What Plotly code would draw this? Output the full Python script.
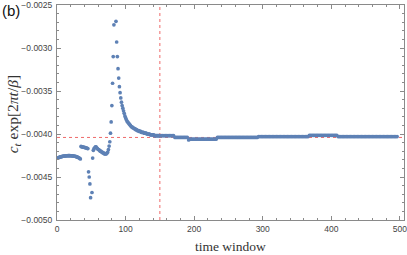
import plotly.graph_objects as go

# ---- data (time window -> c_t exp[2 pi t / beta]) ----
x_a = list(range(1, 35))
y_a = [-0.004280, -0.004276, -0.004272, -0.004269, -0.004266, -0.004264, -0.004262, -0.004260, -0.004258, -0.004257,
       -0.004256, -0.004255, -0.004254, -0.004253, -0.004253, -0.004252, -0.004252, -0.004252, -0.004252, -0.004253,
       -0.004253, -0.004254, -0.004255, -0.004256, -0.004257, -0.004259, -0.004261, -0.004263, -0.004266, -0.004269,
       -0.004273, -0.004277, -0.004282, -0.004290]

x_b = list(range(35, 46))
y_b = [-0.004145, -0.004148, -0.004150, -0.004152, -0.004154, -0.004156, -0.004158, -0.004160, -0.004163, -0.004166,
       -0.004169]

x_c = [46, 47, 48, 49, 51, 52]
y_c = [-0.00444, -0.00450, -0.00458, -0.00474, -0.00468, -0.00428]

x_d = list(range(53, 76))
y_d = [-0.00419, -0.00417, -0.00416, -0.00415, -0.00415, -0.00416, -0.00417, -0.00418, -0.00418, -0.00419,
       -0.00420, -0.00420, -0.00421, -0.00421, -0.00422, -0.00422, -0.00423, -0.00423, -0.00423, -0.00423,
       -0.00422, -0.00421, -0.00418]

x_e = [76, 77, 78, 79, 80, 81, 82, 83, 86, 87, 88, 89, 90, 91, 92, 93, 94, 95, 96]
y_e = [-0.00414, -0.00409, -0.00399, -0.00386, -0.00367, -0.00341, -0.00310, -0.00273, -0.00269, -0.00293,
       -0.00310, -0.00324, -0.00335, -0.00345, -0.00352, -0.00358, -0.00363, -0.00367, -0.00370]

x_f = list(range(97, 151))
y_f = [-0.00373, -0.00376, -0.00379, -0.00381, -0.00383, -0.00385, -0.00386, -0.00387, -0.00388, -0.00389,
       -0.00390, -0.00391, -0.00392, -0.00392, -0.00393, -0.00393, -0.00394, -0.00394, -0.00395, -0.00395,
       -0.00396, -0.00396, -0.00396, -0.00397, -0.00397, -0.00397, -0.00398, -0.00398, -0.00398, -0.00398,
       -0.00399, -0.00399, -0.00399, -0.00399, -0.00400, -0.00400, -0.00400, -0.00400, -0.00400, -0.00401,
       -0.00401, -0.00401, -0.00401, -0.00401, -0.00401, -0.00402, -0.00402, -0.00402, -0.00402, -0.00402,
       -0.00402, -0.00402, -0.00402, -0.00402]

x_g = list(range(152, 497, 2))
y_g = [-0.00402, -0.00402, -0.00402, -0.00402, -0.00402, -0.00402, -0.00402, -0.00402, -0.00402, -0.00402,
       -0.00404, -0.00404, -0.00404, -0.00404, -0.00404, -0.00404, -0.00404, -0.00404, -0.00404, -0.00404,
       -0.00407, -0.00406,
       -0.00406, -0.00406, -0.00406, -0.00406, -0.00406, -0.00406, -0.00406, -0.00406, -0.00406, -0.00406,
       -0.00406, -0.00406, -0.00406, -0.00406, -0.00406, -0.00406, -0.00406, -0.00406, -0.00406,
       -0.00404, -0.00404, -0.00404, -0.00404, -0.00404, -0.00404, -0.00404, -0.00404, -0.00404, -0.00404,
       -0.00404, -0.00404, -0.00404, -0.00404, -0.00404, -0.00404, -0.00404, -0.00404, -0.00404, -0.00404,
       -0.00404, -0.00404, -0.00404, -0.00404, -0.00404, -0.00404, -0.00404, -0.00404, -0.00404, -0.00404,
       -0.00403, -0.00403, -0.00403, -0.00403, -0.00403, -0.00403, -0.00403, -0.00403, -0.00403, -0.00403,
       -0.00403, -0.00403, -0.00403, -0.00403, -0.00403, -0.00403, -0.00403, -0.00403, -0.00403, -0.00403,
       -0.00403, -0.00403, -0.00403, -0.00403, -0.00403, -0.00403, -0.00403, -0.00403, -0.00403, -0.00403,
       -0.00403, -0.00403, -0.00403, -0.00403, -0.00403, -0.00403, -0.00403,
       -0.004015, -0.004015, -0.004015, -0.004015, -0.004015, -0.004015, -0.004015, -0.004015, -0.004015, -0.004015,
       -0.004015, -0.004015, -0.004015, -0.004015, -0.004015, -0.004015, -0.004015, -0.004015, -0.004015, -0.004015,
       -0.004015,
       -0.00403, -0.00403, -0.00403, -0.00403, -0.00403, -0.00403, -0.00403, -0.00403, -0.00403, -0.00403,
       -0.00403, -0.00403, -0.00403, -0.00403, -0.00403, -0.00403, -0.00403, -0.00403, -0.00403, -0.00403,
       -0.00403, -0.00403, -0.00403, -0.00403, -0.00403, -0.00403, -0.00403, -0.00403, -0.00403, -0.00403,
       -0.00403, -0.00403, -0.00403, -0.00403, -0.00403, -0.00403, -0.00403, -0.00403, -0.00403, -0.00403,
       -0.00403, -0.00403, -0.00403, -0.00403]

ref_level = -0.00404   # horizontal dashed line
ref_window = 150       # vertical dashed line

x_all = x_a + x_b + x_c + x_d + x_e + x_f + x_g
y_all = y_a + y_b + y_c + y_d + y_e + y_f + y_g

BLUE = "#5E81B5"
RED = "#EE6A6A"
FRAME = "#8a8a8a"
TICKFONT = dict(family="Liberation Sans, Arial, sans-serif", size=8.5, color="#444444")

fig = go.Figure()
fig.add_trace(go.Scatter(
    x=x_all, y=y_all, mode="markers",
    marker=dict(color=BLUE, size=3.7, line=dict(width=0)),
    showlegend=False, hoverinfo="skip",
))

fig.add_shape(type="line", xref="paper", yref="y", x0=0, x1=1, y0=ref_level, y1=ref_level,
              line=dict(color=RED, width=1, dash="3px,3px"), layer="below")
fig.add_shape(type="line", xref="x", yref="paper", x0=ref_window, x1=ref_window, y0=0, y1=1,
              line=dict(color=RED, width=1, dash="3px,3px"), layer="below")

axis_common = dict(
    showgrid=False, zeroline=False, showline=True, linecolor=FRAME, linewidth=1,
    mirror="ticks", ticks="inside", ticklen=4, tickcolor=FRAME, tickwidth=1,
    tickfont=TICKFONT, automargin=False, ticklabeloverflow="allow",
)

fig.update_xaxes(range=[0, 506], dtick=100, tick0=0,
                 minor=dict(ticks="inside", ticklen=2, dtick=20, tickcolor=FRAME),
                 ticklabelstandoff=1, **axis_common)
fig.update_yaxes(range=[-0.0050, -0.0025], dtick=0.0005, tick0=-0.0050, tickformat=".4f",
                 minor=dict(ticks="inside", ticklen=2, dtick=0.0001, tickcolor=FRAME),
                 ticklabelstandoff=2, **axis_common)

fig.add_annotation(text="time window", xref="paper", yref="paper", x=0.5, y=-0.08,
                   xanchor="center", yanchor="top", showarrow=False,
                   font=dict(family="Liberation Serif, DejaVu Serif, serif", size=13.5, color="#333333"))
fig.add_annotation(text="<i>c</i><sub><i>t</i></sub> exp[2<i>πt</i>/<i>β</i>]",
                   xref="paper", yref="paper", x=-0.125, y=0.49, textangle=-90,
                   xanchor="center", yanchor="middle", showarrow=False,
                   font=dict(family="Liberation Serif, DejaVu Serif, serif", size=15.5, color="#333333"))
fig.add_annotation(text="(b)", xref="paper", yref="paper", x=-0.165, y=1.025,
                   xanchor="left", yanchor="top", showarrow=False,
                   font=dict(family="Liberation Sans, Arial, sans-serif", size=15, color="#111111"))

fig.update_layout(
    width=407, height=255,
    margin=dict(l=57, r=3, t=5, b=35),
    paper_bgcolor="white", plot_bgcolor="white",
)

fig.write_html("out.html", config={"displayModeBar": False},
               post_script="document.body.style.margin='0px';document.body.style.overflow='hidden';")
